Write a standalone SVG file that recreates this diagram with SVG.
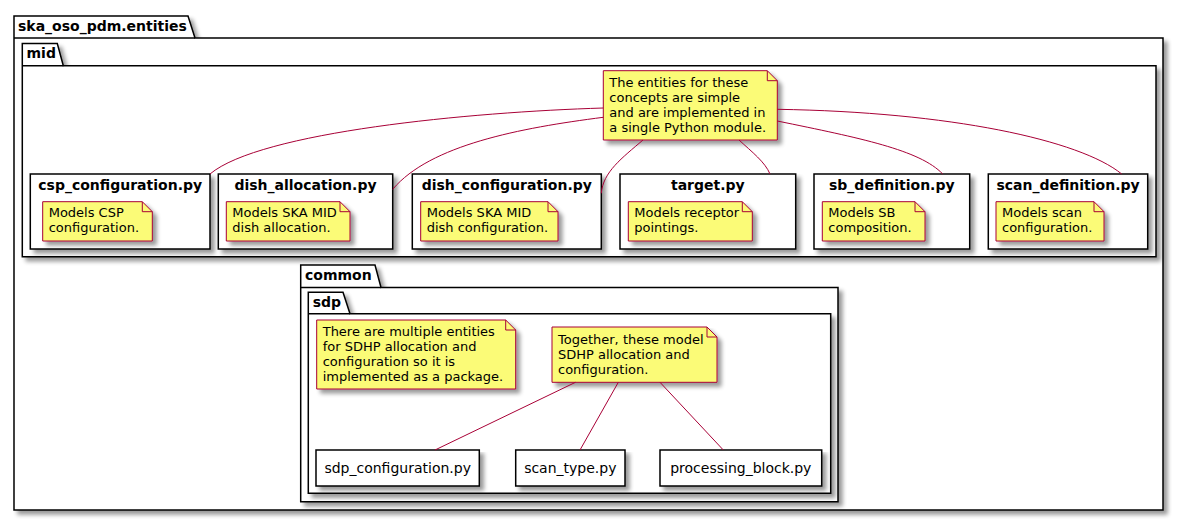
<svg xmlns="http://www.w3.org/2000/svg" width="1184" height="521" viewBox="0 0 1184 521">
  <defs>
    <filter id="shadow" x="-5%" y="-5%" width="115%" height="125%">
      <feGaussianBlur in="SourceAlpha" stdDeviation="2"/>
      <feOffset dx="4" dy="4" result="off"/>
      <feComponentTransfer><feFuncA type="linear" slope="0.4"/></feComponentTransfer>
      <feMerge><feMergeNode/><feMergeNode in="SourceGraphic"/></feMerge>
    </filter>
    <style>
      .pkg { fill: #ffffff; stroke: #000000; stroke-width: 1.5; filter: url(#shadow); }
      .pkgline { fill: none; stroke: #000000; stroke-width: 1.5; }
      .box { fill: #ffffff; stroke: #000000; stroke-width: 1.5; filter: url(#shadow); }
      .note { fill: #FBFB77; stroke: #A80036; stroke-width: 1; filter: url(#shadow); }
      .fold { fill: none; stroke: #A80036; stroke-width: 1; }
      .conn { fill: none; stroke: #A80036; stroke-width: 1; }
      .ptitle { font-family: "DejaVu Sans", "Liberation Sans", sans-serif; font-size: 14px; font-weight: bold; fill: #000000; }
      .ntitle { font-family: "DejaVu Sans", "Liberation Sans", sans-serif; font-size: 14px; font-weight: bold; fill: #000000; text-anchor: middle; }
      .nlabel { font-family: "DejaVu Sans", "Liberation Sans", sans-serif; font-size: 14px; fill: #000000; text-anchor: middle; }
      .ntext { font-family: "DejaVu Sans", "Liberation Sans", sans-serif; font-size: 13px; fill: #000000; }
    </style>
  </defs>

  <!-- package ska_oso_pdm.entities -->
  <g id="pkg-entities">
    <path class="pkg" d="M14,16 L188,16 L195,38 L1163,38 L1163,510 L14,510 Z"/>
    <line class="pkgline" x1="14" y1="38" x2="195" y2="38"/>
    <text class="ptitle" x="18" y="31">ska_oso_pdm.entities</text>
  </g>

  <!-- package mid -->
  <g id="pkg-mid">
    <path class="pkg" d="M22.3,43.5 L57.3,43.5 L63.3,65.7 L1156,65.7 L1156,256.7 L22.3,256.7 Z"/>
    <line class="pkgline" x1="22.3" y1="65.7" x2="63.3" y2="65.7"/>
    <text class="ptitle" x="26.5" y="58">mid</text>
  </g>

  <!-- note shared by the mid modules -->
  <g id="note-mid">
    <path class="note" d="M603.3,70.7 L603.3,140 L777.3,140 L777.3,80.7 L767.3,70.7 Z"/>
    <path class="fold" d="M767.3,70.7 L767.3,80.7 L777.3,80.7"/>
    <text class="ntext" x="609.3" y="86.7">The entities for these</text>
    <text class="ntext" x="609.3" y="101.7">concepts are simple</text>
    <text class="ntext" x="609.3" y="116.7">and are implemented in</text>
    <text class="ntext" x="609.3" y="131.7">a single Python module.</text>
  </g>

  <!-- mid modules -->
  <g id="csp_configuration">
    <rect class="box" x="30.3" y="174" width="179.7" height="75"/>
    <text class="ntitle" x="120.2" y="189.5">csp_configuration.py</text>
    <path class="note" d="M42.7,201.7 L42.7,241 L152.3,241 L152.3,211.7 L142.3,201.7 Z"/>
    <path class="fold" d="M142.3,201.7 L142.3,211.7 L152.3,211.7"/>
    <text class="ntext" x="48.7" y="216.7">Models CSP</text>
    <text class="ntext" x="48.7" y="231.7">configuration.</text>
  </g>

  <g id="dish_allocation">
    <rect class="box" x="218.3" y="174" width="174.4" height="75"/>
    <text class="ntitle" x="305.5" y="189.5">dish_allocation.py</text>
    <path class="note" d="M226.3,201.7 L226.3,241 L350,241 L350,211.7 L340,201.7 Z"/>
    <path class="fold" d="M340,201.7 L340,211.7 L350,211.7"/>
    <text class="ntext" x="232.3" y="216.7">Models SKA MID</text>
    <text class="ntext" x="232.3" y="231.7">dish allocation.</text>
  </g>

  <g id="dish_configuration">
    <rect class="box" x="412.3" y="174" width="189" height="75"/>
    <text class="ntitle" x="506.8" y="189.5">dish_configuration.py</text>
    <path class="note" d="M420.7,201.7 L420.7,241 L558,241 L558,211.7 L548,201.7 Z"/>
    <path class="fold" d="M548,201.7 L548,211.7 L558,211.7"/>
    <text class="ntext" x="426.7" y="216.7">Models SKA MID</text>
    <text class="ntext" x="426.7" y="231.7">dish configuration.</text>
  </g>

  <g id="target">
    <rect class="box" x="620" y="174" width="175.7" height="75"/>
    <text class="ntitle" x="707.8" y="189.5">target.py</text>
    <path class="note" d="M628.3,201.7 L628.3,241 L752.3,241 L752.3,211.7 L742.3,201.7 Z"/>
    <path class="fold" d="M742.3,201.7 L742.3,211.7 L752.3,211.7"/>
    <text class="ntext" x="634.3" y="216.7">Models receptor</text>
    <text class="ntext" x="634.3" y="231.7">pointings.</text>
  </g>

  <g id="sb_definition">
    <rect class="box" x="814" y="174" width="155.7" height="75"/>
    <text class="ntitle" x="891.8" y="189.5">sb_definition.py</text>
    <path class="note" d="M822.3,201.7 L822.3,241 L925,241 L925,211.7 L915,201.7 Z"/>
    <path class="fold" d="M915,201.7 L915,211.7 L925,211.7"/>
    <text class="ntext" x="828.3" y="216.7">Models SB</text>
    <text class="ntext" x="828.3" y="231.7">composition.</text>
  </g>

  <g id="scan_definition">
    <rect class="box" x="988.3" y="174" width="159.4" height="75"/>
    <text class="ntitle" x="1068" y="189.5">scan_definition.py</text>
    <path class="note" d="M996,201.7 L996,241 L1104,241 L1104,211.7 L1094,201.7 Z"/>
    <path class="fold" d="M1094,201.7 L1094,211.7 L1104,211.7"/>
    <text class="ntext" x="1002" y="216.7">Models scan</text>
    <text class="ntext" x="1002" y="231.7">configuration.</text>
  </g>

  <!-- package common -->
  <g id="pkg-common">
    <path class="pkg" d="M300.7,265 L375,265 L381,287.5 L838,287.5 L838,501.7 L300.7,501.7 Z"/>
    <line class="pkgline" x1="300.7" y1="287.5" x2="381" y2="287.5"/>
    <text class="ptitle" x="305" y="280">common</text>
  </g>

  <!-- package sdp -->
  <g id="pkg-sdp">
    <path class="pkg" d="M308.3,292.3 L343,292.3 L350,313.7 L830.7,313.7 L830.7,493.3 L308.3,493.3 Z"/>
    <line class="pkgline" x1="308.3" y1="313.7" x2="350" y2="313.7"/>
    <text class="ptitle" x="312.7" y="306.7">sdp</text>
  </g>

  <g id="note-sdp-package">
    <path class="note" d="M316.7,320 L316.7,389 L515.7,389 L515.7,330 L505.7,320 Z"/>
    <path class="fold" d="M505.7,320 L505.7,330 L515.7,330"/>
    <text class="ntext" x="322.7" y="336">There are multiple entities</text>
    <text class="ntext" x="322.7" y="351">for SDHP allocation and</text>
    <text class="ntext" x="322.7" y="366">configuration so it is</text>
    <text class="ntext" x="322.7" y="381">implemented as a package.</text>
  </g>

  <g id="note-sdp-modules">
    <path class="note" d="M552,327 L552,382.3 L717,382.3 L717,337 L707,327 Z"/>
    <path class="fold" d="M707,327 L707,337 L717,337"/>
    <text class="ntext" x="558" y="343.5">Together, these model</text>
    <text class="ntext" x="558" y="358.5">SDHP allocation and</text>
    <text class="ntext" x="558" y="373.5">configuration.</text>
  </g>

  <g id="sdp_configuration">
    <rect class="box" x="316" y="450" width="163.3" height="36"/>
    <text class="nlabel" x="397.7" y="472.7">sdp_configuration.py</text>
  </g>

  <g id="scan_type">
    <rect class="box" x="515.7" y="450" width="109.3" height="36"/>
    <text class="nlabel" x="570.3" y="472.7">scan_type.py</text>
  </g>

  <g id="processing_block">
    <rect class="box" x="660" y="450" width="161.7" height="36"/>
    <text class="nlabel" x="740.8" y="472.7">processing_block.py</text>
  </g>

  <!-- note links -->
  <g id="connectors">
    <path class="conn" d="M603.3,108 C470,112 260,132 210,174"/>
    <path class="conn" d="M603.3,117.3 C520,128 430,145 392.7,189.3"/>
    <path class="conn" d="M643,140 C622,158 603,172 601.3,193.3"/>
    <path class="conn" d="M739,140 C752,152 765,162 770,174"/>
    <path class="conn" d="M777.3,121 C860,138 920,150 942.7,174"/>
    <path class="conn" d="M777.3,109.3 C950,112 1080,140 1121.7,174"/>
    <path class="conn" d="M575.5,382.3 L435,450"/>
    <path class="conn" d="M618.3,382.3 L580,450"/>
    <path class="conn" d="M660,382.3 L723.3,450"/>
  </g>
</svg>
